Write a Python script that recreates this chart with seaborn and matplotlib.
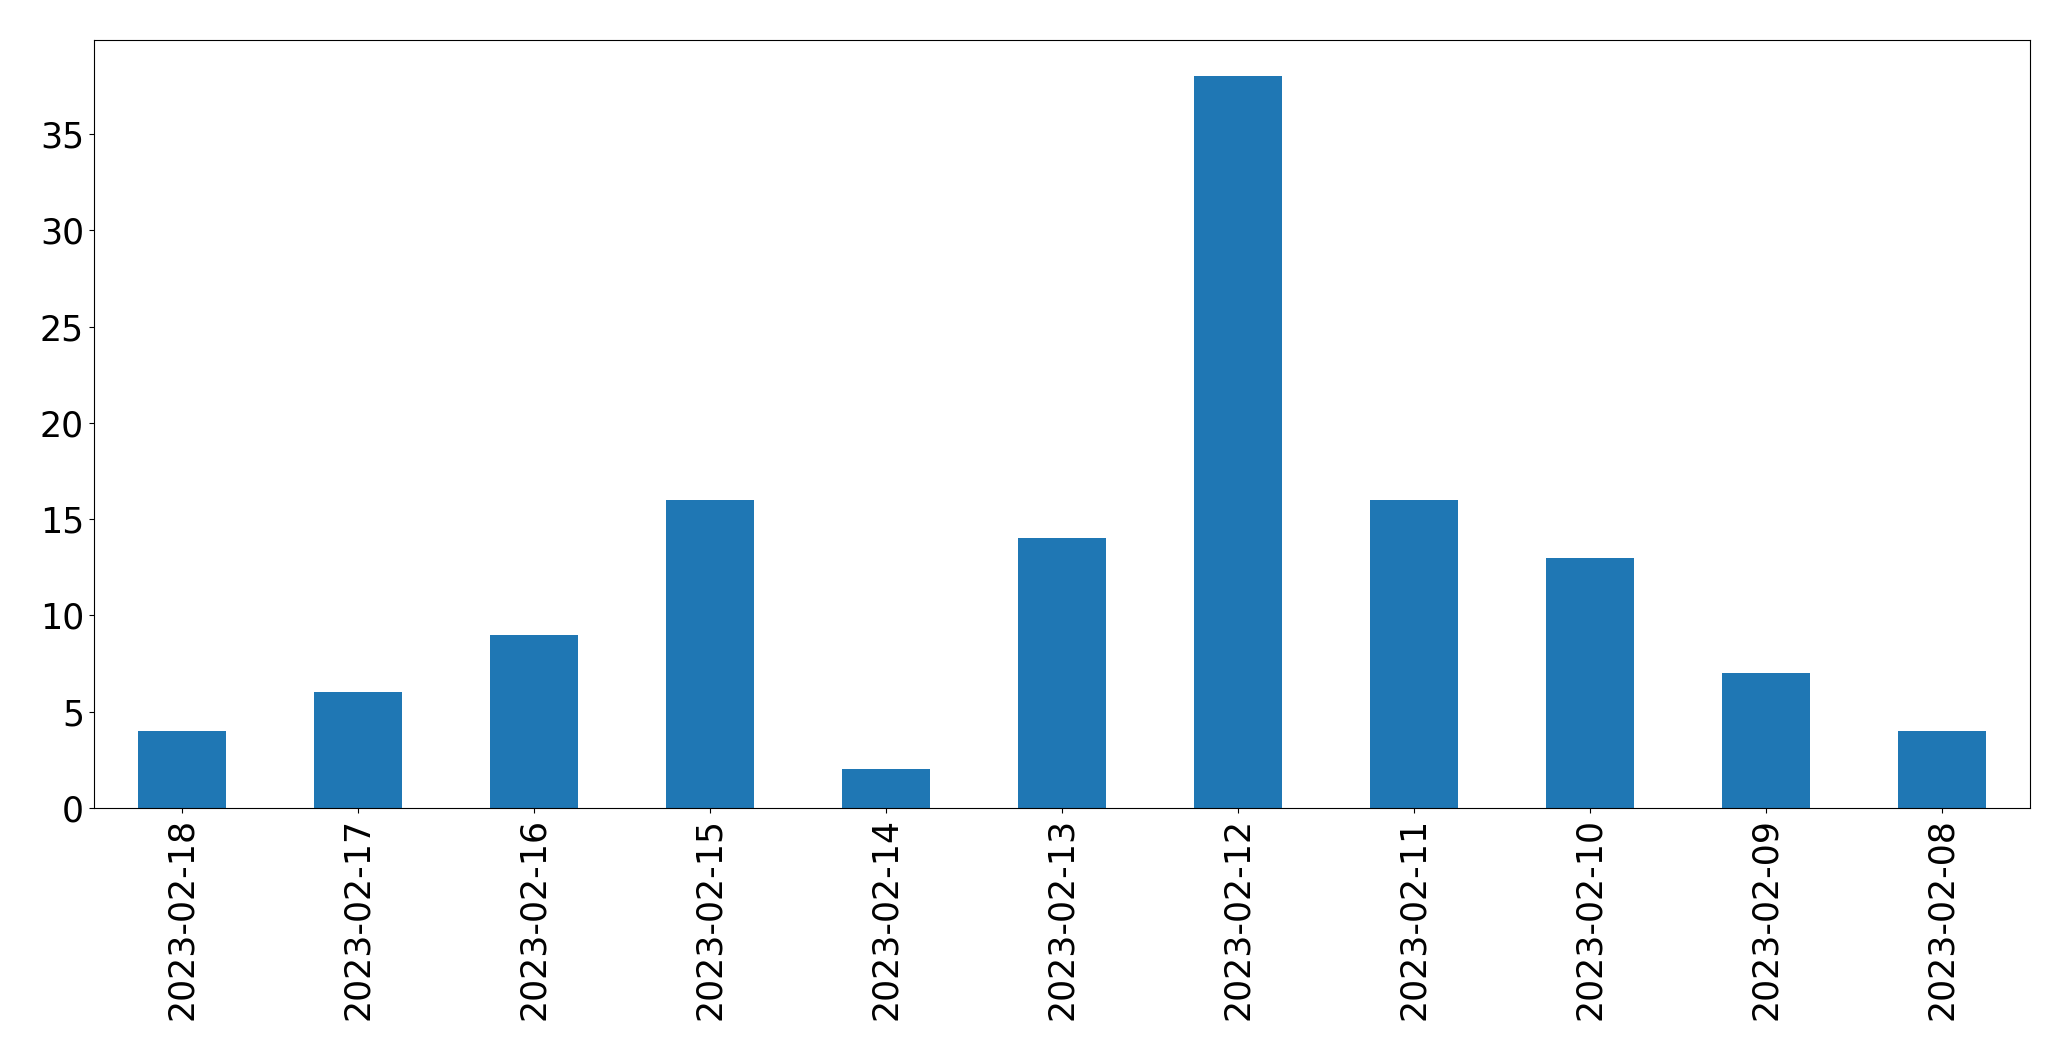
import pandas as pd
import seaborn as sns
import matplotlib.pyplot as plt

# data
dates = ["2023-02-18", "2023-02-17", "2023-02-16", "2023-02-15", "2023-02-14",
         "2023-02-13", "2023-02-12", "2023-02-11", "2023-02-10", "2023-02-09",
         "2023-02-08"]
counts = [4, 6, 9, 16, 2, 14, 38, 16, 13, 7, 4]

df = pd.DataFrame({"date": dates, "count": counts})

plt.rcParams['font.family'] = ['DejaVu Sans']
fig = plt.figure(figsize=(20.71, 10.61), dpi=100)
ax = fig.add_axes([0.0453, 0.2385, 0.9347, 0.7242])

sns.barplot(data=df, x="date", y="count", order=dates, color="#1f77b4",
            saturation=1, width=0.5, ax=ax)

ax.set_xlim(-0.5, len(dates) - 0.5)
ax.set_ylim(0, max(counts) * 1.05)
ax.set_xlabel("")
ax.set_ylabel("")
ax.tick_params(axis="x", labelrotation=90, labelsize=25)
ax.tick_params(axis="y", labelsize=25)

fig.savefig("out.png", dpi=100)
